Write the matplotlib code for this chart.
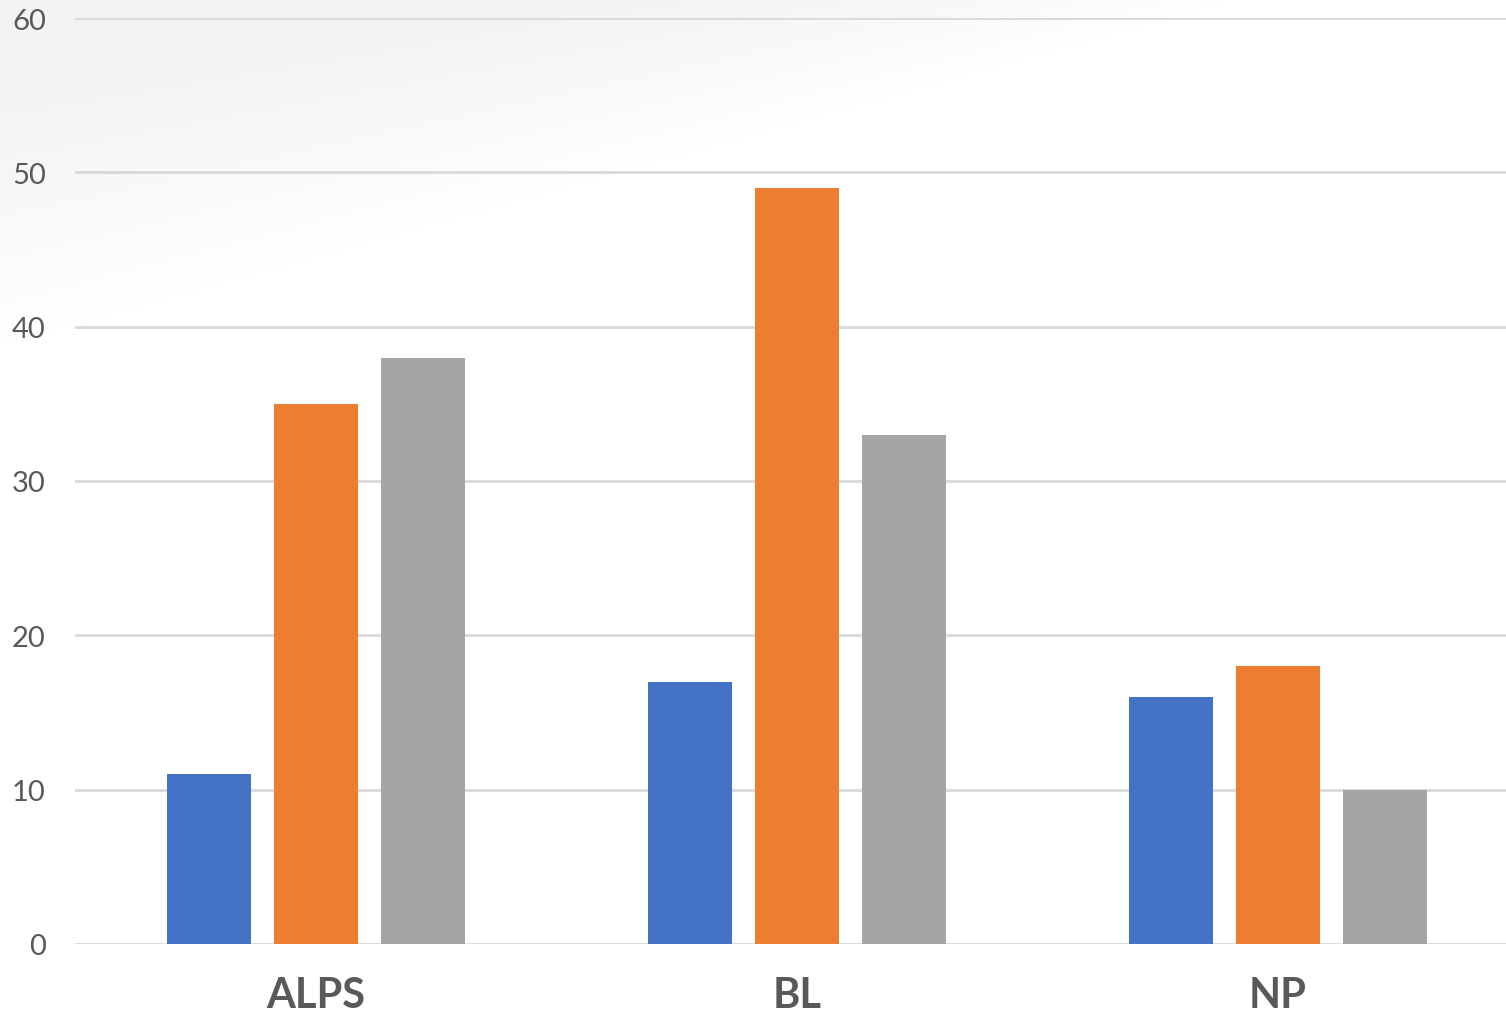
import numpy as np
import matplotlib.pyplot as plt

# data
categories = ['ALPS', 'BL', 'NP']
series_1 = [11, 17, 16]
series_2 = [35, 49, 18]
series_3 = [38, 33, 10]
colors = ['#4472C4', '#ED7D31', '#A5A5A5']
yticks = [0, 10, 20, 30, 40, 50, 60]

plt.rcParams['font.family'] = ['Lato', 'DejaVu Sans']

fig = plt.figure(figsize=(15.06, 10.2), dpi=100)
fig.patch.set_facecolor('white')

# soft grey swoosh in the background, top left
bg = fig.add_axes([0, 0, 1, 1], zorder=-1)
h, w = 1020, 1506
yy, xx = np.mgrid[0:h, 0:w]
yline = 105 - xx * 0.16
dist = yy - yline
shade = np.where(dist < 0, 0.045, 0.045 * np.clip(1 - dist / (240 - xx * 0.12), 0, 1))
shade = np.where(dist < 0, shade * np.clip(1 - (xx - 700) / 1200, 0.35, 1), shade)
img = 1 - shade
bg.imshow(np.dstack([img, img, img]), extent=[0, 1, 0, 1], aspect='auto', origin='upper')
bg.axis('off')

ax = fig.add_axes([75 / 1506, 75 / 1020, 1 - 75 / 1506, 926 / 1020])
ax.patch.set_alpha(0)

x = np.arange(len(categories))
width = 0.175
step = 0.2225
ax.bar(x - step, series_1, width, color=colors[0], zorder=3)
ax.bar(x, series_2, width, color=colors[1], zorder=3)
ax.bar(x + step, series_3, width, color=colors[2], zorder=3)

ax.set_ylim(0, 60)
ax.set_xlim(-0.501, 2.474)
ax.set_yticks(yticks)
ax.yaxis.grid(True, color='#D9D9D9', linewidth=2, zorder=0)
ax.set_axisbelow(True)
for s in ax.spines.values():
    s.set_visible(False)

ax.set_xticks(x)
ax.set_xticklabels(categories, fontsize=30, fontweight='bold', color='#595959')
ax.tick_params(axis='x', length=0, pad=23)
ax.tick_params(axis='y', length=0, pad=21, labelsize=21, labelcolor='#595959')

fig.savefig('out.png', dpi=100, facecolor=fig.get_facecolor())
